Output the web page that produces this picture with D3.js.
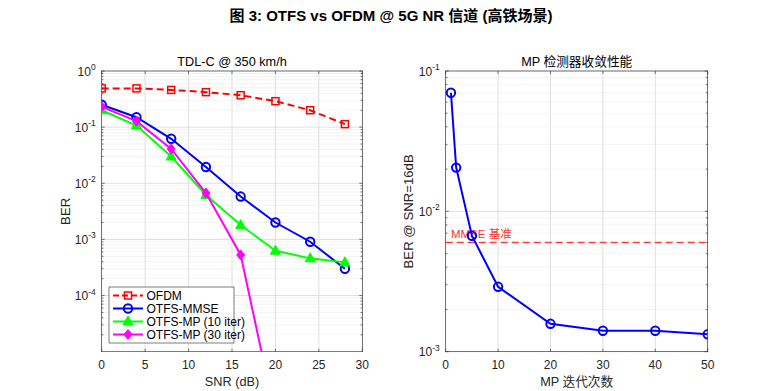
<!DOCTYPE html>
<html>
<head>
<meta charset="utf-8">
<script src="https://cdn.jsdelivr.net/npm/d3@7"></script>
<style>
  body { margin: 0; background: #fff; }
  svg { font-family: "Liberation Sans", Arial, "Noto Sans CJK SC", sans-serif; }
  .grid line { stroke: #dfdfdf; }
  .minor line { stroke: #e8e8e8; stroke-dasharray: 1,1; }
</style>
</head>
<body>
<svg id="chart" width="782" height="391"></svg>
<script>
// left panel: BER vs SNR
const snr = [0, 4, 8, 12, 16, 20, 24, 28];
const berOfdm = [0.49, 0.49, 0.46, 0.42, 0.37, 0.29, 0.2, 0.113];
const berMmse = [0.25, 0.15, 0.062, 0.0195, 0.0058, 0.002, 0.00091, 0.0003];
const berMp10 = [0.2, 0.107, 0.03, 0.0062, 0.0018, 0.00063, 0.00046, 0.00039];
const berMp30 = [0.23, 0.128, 0.041, 0.0067, 0.00053, 7e-7];
const seriesNames = ['OFDM', 'OTFS-MMSE', 'OTFS-MP (10 iter)', 'OTFS-MP (30 iter)'];
const snrTicks = [0, 5, 10, 15, 20, 25, 30];

// right panel: convergence at SNR = 16 dB
const iters = [1, 2, 5, 10, 20, 30, 40, 50];
const berIter = [0.07, 0.0205, 0.0067, 0.0029, 0.00158, 0.00141, 0.00141, 0.00133];
const mmseBaseline = 0.006;
const iterTicks = [0, 10, 20, 30, 40, 50];

const svg = d3.select('#chart');
const axisColor = '#262626';

svg.append('text')
  .attr('x', 391).attr('y', 21)
  .attr('text-anchor', 'middle')
  .attr('font-size', 15).attr('font-weight', 'bold')
  .attr('fill', '#000')
  .text('图 3: OTFS vs OFDM @ 5G NR 信道 (高铁场景)');

function makePanel(id, box, xDomain, yDomain) {
  const x = d3.scaleLinear().domain(xDomain).range([box.left, box.right]);
  const y = d3.scaleLog().domain(yDomain).range([box.bottom, box.top]);
  const g = svg.append('g');
  g.append('clipPath').attr('id', id)
    .append('rect')
    .attr('x', box.left).attr('y', box.top)
    .attr('width', box.right - box.left).attr('height', box.bottom - box.top);
  return { x, y, g, box, clip: `url(#${id})` };
}

function drawFrame(p, xTicks, yExps, minorExps) {
  const { x, y, g, box } = p;
  const minor = [];
  minorExps.forEach(e => { for (let k = 2; k <= 9; k++) minor.push(k * Math.pow(10, e)); });

  // minor grid
  g.append('g').attr('class', 'minor')
    .selectAll('line').data(minor).join('line')
    .attr('x1', box.left).attr('x2', box.right)
    .attr('y1', d => y(d)).attr('y2', d => y(d));

  // major grid
  const grid = g.append('g').attr('class', 'grid');
  grid.selectAll('line.v').data(xTicks).join('line').attr('class', 'v')
    .attr('x1', d => x(d)).attr('x2', d => x(d))
    .attr('y1', box.top).attr('y2', box.bottom);
  grid.selectAll('line.h').data(yExps).join('line').attr('class', 'h')
    .attr('x1', box.left).attr('x2', box.right)
    .attr('y1', d => y(Math.pow(10, d))).attr('y2', d => y(Math.pow(10, d)));

  // ticks, inward on all sides
  const ticks = g.append('g').attr('stroke', axisColor).attr('stroke-width', 0.6);
  xTicks.forEach(t => {
    ticks.append('line').attr('x1', x(t)).attr('x2', x(t)).attr('y1', box.bottom).attr('y2', box.bottom - 3);
    ticks.append('line').attr('x1', x(t)).attr('x2', x(t)).attr('y1', box.top).attr('y2', box.top + 3);
  });
  yExps.forEach(e => {
    const yy = y(Math.pow(10, e));
    ticks.append('line').attr('x1', box.left).attr('x2', box.left + 3).attr('y1', yy).attr('y2', yy);
    ticks.append('line').attr('x1', box.right).attr('x2', box.right - 3).attr('y1', yy).attr('y2', yy);
  });
  minor.forEach(m => {
    const yy = y(m);
    ticks.append('line').attr('x1', box.left).attr('x2', box.left + 1.8).attr('y1', yy).attr('y2', yy);
    ticks.append('line').attr('x1', box.right).attr('x2', box.right - 1.8).attr('y1', yy).attr('y2', yy);
  });

  g.append('rect')
    .attr('x', box.left).attr('y', box.top)
    .attr('width', box.right - box.left).attr('height', box.bottom - box.top)
    .attr('fill', 'none').attr('stroke', axisColor).attr('stroke-width', 0.6);

  // tick labels
  g.selectAll('text.xt').data(xTicks).join('text').attr('class', 'xt')
    .attr('x', d => x(d)).attr('y', box.bottom + 17.5)
    .attr('text-anchor', 'middle').attr('font-size', 12).attr('fill', axisColor)
    .text(d => d);
  const yl = g.selectAll('text.yt').data(yExps).join('text').attr('class', 'yt')
    .attr('x', box.left - 6).attr('y', d => y(Math.pow(10, d)) + 4.5)
    .attr('text-anchor', 'end').attr('font-size', 12).attr('fill', axisColor);
  yl.append('tspan').text('10');
  yl.append('tspan').attr('dy', -5.5).attr('font-size', 8.5).text(d => d);
}

function axisLabels(p, title, xLabel, yLabel, yLabelX) {
  const { g, box } = p;
  const cx = (box.left + box.right) / 2;
  g.append('text').attr('x', cx).attr('y', box.top - 5)
    .attr('text-anchor', 'middle').attr('font-size', 12.7).attr('fill', '#000')
    .text(title);
  g.append('text').attr('x', cx).attr('y', box.bottom + 34.5)
    .attr('text-anchor', 'middle').attr('font-size', 12.7).attr('fill', axisColor)
    .text(xLabel);
  g.append('text')
    .attr('transform', `translate(${yLabelX},${(box.top + box.bottom) / 2}) rotate(-90)`)
    .attr('text-anchor', 'middle').attr('font-size', 13.2).attr('fill', axisColor)
    .text(yLabel);
}

function marker(sel, shape, color) {
  if (shape === 'square') {
    sel.append('rect').attr('x', -3.5).attr('y', -3.5).attr('width', 7).attr('height', 7)
      .attr('fill', 'none').attr('stroke', color).attr('stroke-width', 1.5);
  } else if (shape === 'circle') {
    sel.append('circle').attr('r', 4.2)
      .attr('fill', 'none').attr('stroke', color).attr('stroke-width', 2);
  } else if (shape === 'triangle') {
    sel.append('path').attr('d', 'M0,-5.5L5,3.5L-5,3.5Z').attr('fill', color).attr('stroke', color);
  } else if (shape === 'diamond') {
    sel.append('path').attr('d', 'M0,-5L4,0L0,5L-4,0Z').attr('fill', color).attr('stroke', color);
  }
}

function drawSeries(p, xs, ys, style) {
  const { x, y, g, clip } = p;
  const pts = ys.map((v, i) => [xs[i], v]);
  const sg = g.append('g').attr('clip-path', clip);
  sg.append('path').datum(pts)
    .attr('d', d3.line().x(d => x(d[0])).y(d => y(d[1])))
    .attr('fill', 'none').attr('stroke', style.color).attr('stroke-width', 2)
    .attr('stroke-dasharray', style.dash || null);
  pts.forEach(d => {
    const m = sg.append('g').attr('transform', `translate(${x(d[0])},${y(d[1])})`);
    marker(m, style.shape, style.color);
  });
}

// ---- left panel ----
const left = makePanel('clipL', { left: 101.7, right: 362.3, top: 71, bottom: 351.7 }, [0, 30], [1e-5, 1]);
drawFrame(left, snrTicks, [0, -1, -2, -3, -4], [-1, -2, -3, -4, -5]);
axisLabels(left, 'TDL-C @ 350 km/h', 'SNR (dB)', 'BER', 70);

const styles = [
  { color: '#ff0000', shape: 'square', dash: '7,4' },
  { color: '#0000ff', shape: 'circle' },
  { color: '#00ff00', shape: 'triangle' },
  { color: '#ff00ff', shape: 'diamond' }
];
drawSeries(left, snr, berOfdm, styles[0]);
drawSeries(left, snr, berMmse, styles[1]);
drawSeries(left, snr, berMp10, styles[2]);
drawSeries(left, snr.slice(0, berMp30.length), berMp30, styles[3]);

// legend
const lg = left.g.append('g').attr('transform', 'translate(109,287)');
lg.append('rect').attr('width', 125).attr('height', 56)
  .attr('fill', '#fff').attr('stroke', axisColor).attr('stroke-width', 0.6);
seriesNames.forEach((name, i) => {
  const row = lg.append('g').attr('transform', `translate(0,${8.5 + i * 13})`);
  row.append('line').attr('x1', 4).attr('x2', 34)
    .attr('stroke', styles[i].color).attr('stroke-width', 2)
    .attr('stroke-dasharray', styles[i].dash ? '6,3' : null);
  marker(row.append('g').attr('transform', 'translate(19,0)'), styles[i].shape, styles[i].color);
  row.append('text').attr('x', 37.5).attr('y', 4.3)
    .attr('font-size', 12).attr('fill', '#000').text(name);
});

// ---- right panel ----
const right = makePanel('clipR', { left: 445.7, right: 707.7, top: 71, bottom: 351.7 }, [0, 50], [1e-3, 1e-1]);
drawFrame(right, iterTicks, [-1, -2, -3], [-2, -3]);
axisLabels(right, 'MP 检测器收敛性能', 'MP 迭代次数', 'BER @ SNR=16dB', 413);

right.g.append('line')
  .attr('x1', right.box.left).attr('x2', right.box.right)
  .attr('y1', right.y(mmseBaseline)).attr('y2', right.y(mmseBaseline))
  .attr('stroke', '#ff3c3c').attr('stroke-width', 1.5).attr('stroke-dasharray', '7,4');
right.g.append('text')
  .attr('x', right.x(1)).attr('y', right.y(mmseBaseline) - 4)
  .attr('font-size', 11.5).attr('fill', '#ff3030')
  .text('MMSE 基准');

drawSeries(right, iters, berIter, { color: '#0000ff', shape: 'circle' });
</script>
</body>
</html>
